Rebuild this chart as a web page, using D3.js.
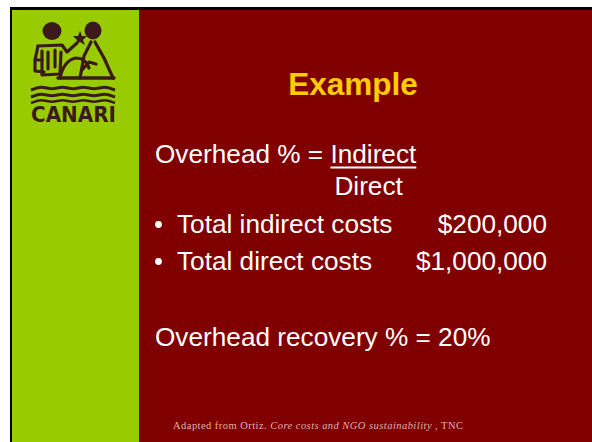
<!DOCTYPE html>
<html><head><meta charset="utf-8">
<script src="https://cdn.jsdelivr.net/npm/d3@7/dist/d3.min.js"></script>
<style>html,body{margin:0;padding:0;background:#fff;}svg{display:block;}</style>
</head><body>
<script>
const title = "Example";
const formulaLeft = "Overhead % = ";
const formulaNumerator = "Indirect";
const formulaDenominator = "Direct";
const bulletLabels = ["Total indirect costs", "Total direct costs"];
const bulletValues = ["$200,000", "$1,000,000"];
const resultLine = "Overhead recovery % = 20%";
const footerParts = [
  {text: "Adapted from Ortiz. ", italic: false},
  {text: "Core costs and NGO sustainability", italic: true},
  {text: " , TNC", italic: false}
];
const logoText = "CANARI";

const W = 592, H = 442;
const svg = d3.select("body").append("svg").attr("width", W).attr("height", H);
const sans = "'Liberation Sans', Arial, sans-serif";

// frame
svg.append("rect").attr("x", 10).attr("y", 7).attr("width", W - 10).attr("height", H - 7).attr("fill", "#000");
svg.append("rect").attr("x", 12).attr("y", 10).attr("width", 127).attr("height", H - 10).attr("fill", "#99CC00");
svg.append("rect").attr("x", 139).attr("y", 10).attr("width", W - 139).attr("height", H - 10).attr("fill", "#800000");

// logo
const lc = "#3b1a1c";
const logo = svg.append("g");
logo.append("ellipse").attr("cx", 52).attr("cy", 31).attr("rx", 9.5).attr("ry", 9).attr("fill", lc);
logo.append("ellipse").attr("cx", 93).attr("cy", 30.5).attr("rx", 8.5).attr("ry", 9).attr("fill", lc);
const strokeP = (d, w) => logo.append("path").attr("d", d).attr("fill", "none").attr("stroke", lc)
  .attr("stroke-width", w || 3.2).attr("stroke-linejoin", "round").attr("stroke-linecap", "round");
// left figure torso
strokeP("M38,46 L62,45 L67,52 L77,43");
strokeP("M38,46 L35,60 L35,71 L44,72");
strokeP("M42,51 L42,75 L60,74 L61,52");
strokeP("M48,52 L48,69");
strokeP("M55,50 L55,67");
strokeP("M37,60 L42,60");
// star held
logo.append("path").attr("d", "M80,31 L82,36 L87,36 L83,40 L85,45 L80,42 L75,45 L77,40 L73,36 L78,36 Z").attr("fill", lc);
// mound
strokeP("M60,78 Q64,60 76,58 Q86,58 89,68");
// triangle right figure
strokeP("M91,42 L84,56 L80,78");
strokeP("M95,42 L104,58 L113,78");
strokeP("M82,70 L89,62 L96,64");
// base line
strokeP("M58,78 L114,78", 3.4);
// waves
const waveLine = d3.line().curve(d3.curveBasis);
[88, 95, 101].forEach((y, i) => {
  const pts = [];
  for (let k = 0; k <= 8; k++) pts.push([31 + k * 10.5, y + (k % 2 ? -2 : 2)]);
  logo.append("path").attr("d", waveLine(pts)).attr("fill", "none").attr("stroke", lc).attr("stroke-width", i === 2 ? 2.5 : 3);
});
logo.append("text").attr("x", 31).attr("y", 122).attr("textLength", 85).attr("lengthAdjust", "spacingAndGlyphs")
  .attr("font-family", "'DejaVu Sans Condensed','DejaVu Sans',sans-serif").attr("font-weight", "bold")
  .attr("font-size", 22).attr("fill", lc).text(logoText);

// title
svg.append("text").attr("x", 353).attr("y", 95).attr("text-anchor", "middle")
  .attr("font-family", sans).attr("font-weight", "bold").attr("font-size", 31.5).attr("fill", "#FFCC00").text(title);

const body = {fs: 26.2, fill: "#fff"};
const t1 = svg.append("text").attr("x", 155).attr("y", 163).attr("font-family", sans).attr("font-size", body.fs).attr("fill", body.fill);
t1.append("tspan").text(formulaLeft);
const num = t1.append("tspan").text(formulaNumerator);
// underline under numerator
const nb = num.node().getComputedTextLength();
const totalLen = t1.node().getComputedTextLength();
const numX = 155 + totalLen - nb;
svg.append("rect").attr("x", numX).attr("y", 166.5).attr("width", nb).attr("height", 2).attr("fill", body.fill);
svg.append("text").attr("x", numX + 4).attr("y", 195).attr("font-family", sans).attr("font-size", body.fs).attr("fill", body.fill).text(formulaDenominator);

const rowY = d3.scalePoint().domain(bulletLabels).range([233, 270]);
bulletLabels.forEach((lab, i) => {
  const y = rowY(lab);
  svg.append("circle").attr("cx", 158.5).attr("cy", y - 8.5).attr("r", 3.4).attr("fill", body.fill);
  svg.append("text").attr("x", 177).attr("y", y).attr("font-family", sans).attr("font-size", body.fs).attr("fill", body.fill).text(lab);
  svg.append("text").attr("x", 547).attr("y", y).attr("text-anchor", "end").attr("font-family", sans).attr("font-size", body.fs).attr("fill", body.fill).text(bulletValues[i]);
});

svg.append("text").attr("x", 155).attr("y", 346).attr("font-family", sans).attr("font-size", body.fs).attr("fill", body.fill).text(resultLine);

const ft = svg.append("text").attr("x", 173).attr("y", 429).attr("font-family", "'Liberation Serif','Times New Roman',serif")
  .attr("font-size", 10.5).attr("fill", "#dcb0b0");
footerParts.forEach(p => ft.append("tspan").attr("font-style", p.italic ? "italic" : "normal").text(p.text));
ft.attr("textLength", 290).attr("lengthAdjust", "spacing");
</script>
</body></html>
